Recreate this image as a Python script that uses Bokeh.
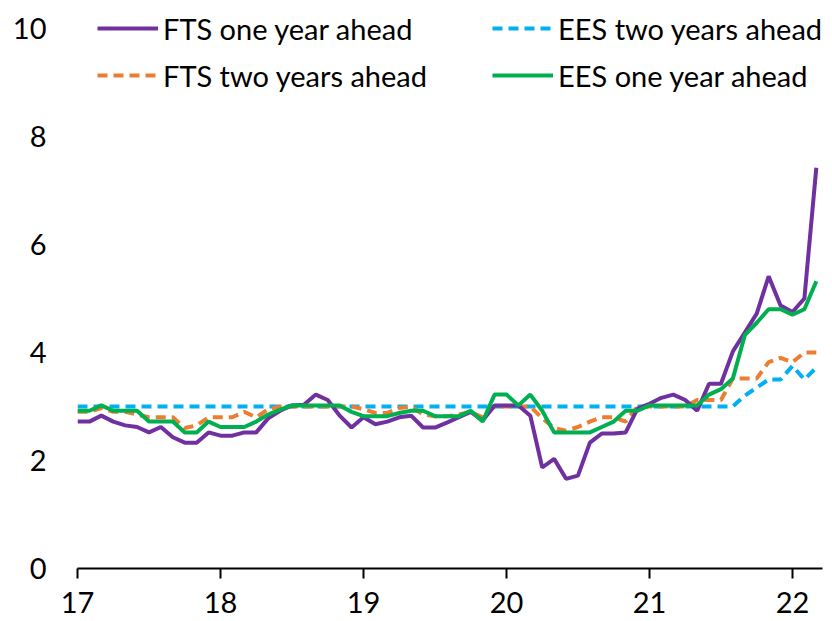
from bokeh.plotting import figure
from bokeh.models import Legend, LegendItem, FixedTicker, Range1d
from bokeh.embed import file_html
from bokeh.resources import INLINE

# monthly observations, Jan 2017 .. Mar 2022 (month index from Jan 2017)
month_index = list(range(63))

fts_one_year = [2.72, 2.72, 2.83, 2.72, 2.65, 2.62, 2.52, 2.62, 2.43, 2.33, 2.33, 2.52,
                2.46, 2.46, 2.52, 2.52, 2.78, 2.92, 3.02, 3.03, 3.22, 3.12, 2.83, 2.61,
                2.80, 2.67, 2.72, 2.80, 2.83, 2.61, 2.61, 2.70, 2.80, 2.90, 2.74, 3.02,
                3.02, 3.02, 2.83, 1.87, 2.03, 1.66, 1.72, 2.33, 2.50, 2.50, 2.52, 2.96,
                3.05, 3.16, 3.22, 3.12, 2.92, 3.42, 3.42, 4.02, 4.37, 4.72, 5.41, 4.87,
                4.75, 5.00, 7.42]

fts_two_years = [2.90, 2.90, 2.97, 2.90, 2.90, 2.85, 2.80, 2.80, 2.80, 2.60, 2.65, 2.80,
                 2.80, 2.80, 2.90, 2.80, 2.95, 3.00, 3.00, 3.00, 3.00, 3.00, 3.00, 3.00,
                 2.95, 2.88, 2.88, 2.97, 3.00, 2.85, 2.82, 2.82, 2.85, 2.90, 2.80, 3.00,
                 3.00, 3.00, 3.00, 2.78, 2.60, 2.55, 2.62, 2.72, 2.80, 2.80, 2.72, 3.00,
                 3.00, 3.00, 3.00, 3.00, 3.12, 3.12, 3.12, 3.52, 3.52, 3.52, 3.82, 3.90,
                 3.82, 4.00, 4.00]

ees_one_year = [2.92, 2.92, 3.02, 2.92, 2.92, 2.92, 2.72, 2.72, 2.72, 2.52, 2.52, 2.72,
                2.62, 2.62, 2.62, 2.72, 2.85, 2.94, 3.02, 3.02, 3.02, 3.02, 3.02, 2.90,
                2.82, 2.82, 2.82, 2.88, 2.92, 2.92, 2.82, 2.82, 2.82, 2.92, 2.72, 3.22,
                3.22, 3.02, 3.22, 2.92, 2.52, 2.52, 2.52, 2.52, 2.62, 2.72, 2.92, 2.92,
                3.02, 3.02, 3.02, 3.02, 3.02, 3.22, 3.32, 3.52, 4.32, 4.55, 4.80, 4.80,
                4.70, 4.80, 5.32]

ees_two_years = [3.0, 3.0, 3.0, 3.0, 3.0, 3.0, 3.0, 3.0, 3.0, 3.0, 3.0, 3.0,
                 3.0, 3.0, 3.0, 3.0, 3.0, 3.0, 3.0, 3.0, 3.0, 3.0, 3.0, 3.0,
                 3.0, 3.0, 3.0, 3.0, 3.0, 3.0, 3.0, 3.0, 3.0, 3.0, 3.0, 3.0,
                 3.0, 3.0, 3.0, 3.0, 3.0, 3.0, 3.0, 3.0, 3.0, 3.0, 3.0, 3.0,
                 3.0, 3.0, 3.0, 3.0, 3.0, 3.0, 3.0, 3.0, 3.2, 3.35, 3.5, 3.5,
                 3.75, 3.5, 3.72]

x_ticks = [17, 18, 19, 20, 21, 22]
y_ticks = [0, 2, 4, 6, 8, 10]

x = [17 + m / 12 for m in month_index]

FONT = "Lato"
FS = "29px"

p = figure(width=832, height=621, output_backend="svg", toolbar_location=None,
           x_range=Range1d(17, 22.21), y_range=Range1d(0, 10.35),
           min_border_left=77, min_border_right=10, min_border_top=9, min_border_bottom=53)
p.outline_line_color = None
p.xgrid.grid_line_color = None
p.ygrid.grid_line_color = None
p.background_fill_color = "white"
p.border_fill_color = "white"

r_blue = p.line(x, ees_two_years, line_color="#00B0F0", line_width=4, line_dash="10 6")
r_orange = p.line(x, fts_two_years, line_color="#ED7D31", line_width=4, line_dash="10 6")
r_purple = p.line(x, fts_one_year, line_color="#7030A0", line_width=4)
r_green = p.line(x, ees_one_year, line_color="#00B050", line_width=4)

xa = p.xaxis[0]
xa.ticker = FixedTicker(ticks=x_ticks)
xa.axis_line_width = 2
xa.axis_line_color = "black"
xa.major_tick_line_width = 2
xa.major_tick_line_color = "black"
xa.major_tick_out = 10
xa.major_tick_in = 0
xa.minor_tick_line_color = None
xa.major_label_text_font = FONT
xa.major_label_text_font_size = FS
xa.major_label_text_color = "black"
xa.major_label_text_line_height = 0.5
xa.major_label_standoff = 13

ya = p.yaxis[0]
ya.ticker = FixedTicker(ticks=y_ticks)
ya.axis_line_color = None
ya.major_tick_line_color = None
ya.minor_tick_line_color = None
ya.major_label_text_font = FONT
ya.major_label_text_font_size = FS
ya.major_label_text_color = "black"
ya.major_label_standoff = 25

def make_legend(items, loc):
    lg = Legend(items=items, location=loc, orientation="vertical",
                glyph_width=61, glyph_height=40, label_height=40, label_standoff=5,
                spacing=7, padding=0, margin=0, border_line_color=None,
                background_fill_alpha=0, label_text_font=FONT,
                label_text_font_size=FS, label_text_color="black")
    return lg

leg1 = make_legend([LegendItem(label="FTS one year ahead", renderers=[r_purple]),
                    LegendItem(label="FTS two years ahead", renderers=[r_orange])], (20, 473))
leg2 = make_legend([LegendItem(label="EES two years ahead", renderers=[r_blue]),
                    LegendItem(label="EES one year ahead", renderers=[r_green])], (415, 473))
p.add_layout(leg1)
p.add_layout(leg2)

open("out.html", "w").write(file_html(p, INLINE))
